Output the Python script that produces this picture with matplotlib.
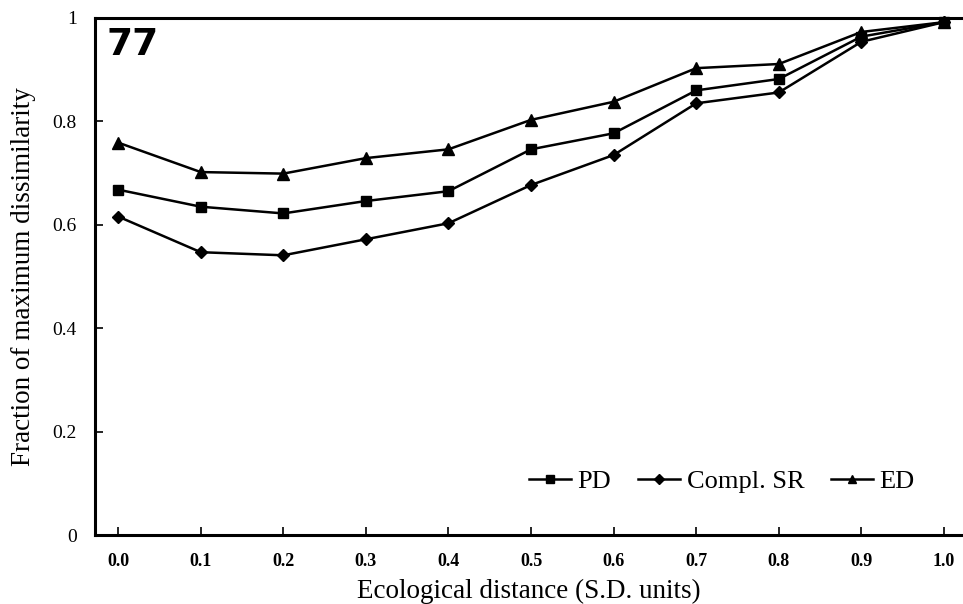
import matplotlib
matplotlib.use("Agg")
import matplotlib.pyplot as plt

# ecological distance (S.D. units)
distance = [0.0, 0.1, 0.2, 0.3, 0.4, 0.5, 0.6, 0.7, 0.8, 0.9, 1.0]

# fraction of maximum dissimilarity
pd_vals = [0.668, 0.635, 0.622, 0.646, 0.665, 0.746, 0.777, 0.860, 0.882, 0.964, 0.992]
sr_vals = [0.616, 0.547, 0.541, 0.572, 0.603, 0.677, 0.735, 0.835, 0.856, 0.954, 0.992]
ed_vals = [0.759, 0.702, 0.699, 0.729, 0.746, 0.803, 0.838, 0.903, 0.911, 0.973, 0.992]

xtick_labels = ["0.0", "0.1", "0.2", "0.3", "0.4", "0.5", "0.6", "0.7", "0.8", "0.9", "1.0"]
yticks = [0, 0.2, 0.4, 0.6, 0.8, 1.0]
ytick_labels = ["0", "0.2", "0.4", "0.6", "0.8", "1"]

serif = ["Liberation Serif", "DejaVu Serif"]

fig = plt.figure(figsize=(9.63, 6.04), dpi=100)
ax = fig.add_axes([95 / 963, 69 / 604, 1 - 95 / 963, 517 / 604])

style = dict(color="black", linewidth=1.8, clip_on=False)
ax.plot(distance, pd_vals, marker="s", markersize=7, label="PD", **style)
ax.plot(distance, sr_vals, marker="D", markersize=6.5, label="Compl. SR", **style)
ax.plot(distance, ed_vals, marker="^", markersize=8.5, label="ED", **style)

ax.set_xlim(-0.028, 1.023)
ax.set_ylim(0, 1.0)

ax.set_xticks(distance)
ax.set_xticklabels(xtick_labels, family=serif, fontsize=13, fontweight="bold")
ax.set_yticks(yticks)
ax.set_yticklabels(ytick_labels, family=serif, fontsize=14)
ax.tick_params(axis="x", direction="in", length=6, width=1.2, pad=13)
ax.tick_params(axis="y", direction="in", length=6, width=1.2, pad=13)

for side in ["left", "bottom", "top"]:
    ax.spines[side].set_linewidth(2.2)
ax.spines["right"].set_visible(False)

ax.set_xlabel("Ecological distance (S.D. units)", family=serif, fontsize=19.5, labelpad=6)
ax.set_ylabel("Fraction of maximum dissimilarity", family=serif, fontsize=19.5, labelpad=12)

ax.text(0.013, 0.983, "77", transform=ax.transAxes, ha="left", va="top",
        fontsize=27, fontweight="bold", family="DejaVu Sans")

leg = ax.legend(loc="center", bbox_to_anchor=(0.722, 0.103), ncol=3, frameon=False,
                prop={"family": serif, "size": 19}, handlelength=1.6,
                handletextpad=0.25, columnspacing=1.0, markerscale=0.75)

fig.savefig("out.png", dpi=100)
